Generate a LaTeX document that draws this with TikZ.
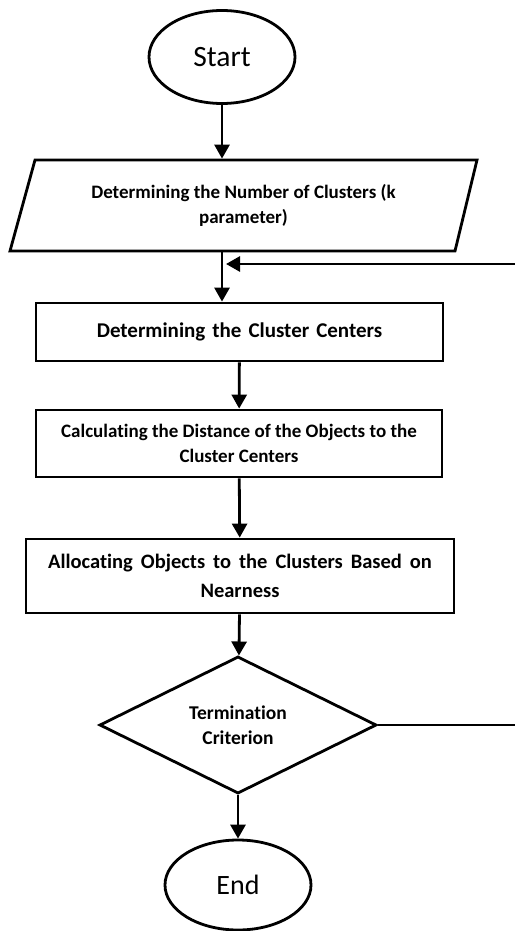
\documentclass[tikz,border=0pt]{standalone}
\usepackage{fontspec}
\setmainfont{Carlito}[Ligatures=NoCommon]
\usetikzlibrary{shapes.geometric,arrows.meta}
\newcommand\mywideA{\spaceskip 7pt\relax}
\newcommand\mywideB{\spaceskip 8pt\relax}
\begin{document}
\begin{tikzpicture}[x=1pt,y=-1pt,line width=2.8pt,
  term/.style={ellipse,draw,inner sep=0pt},
  proc/.style={rectangle,draw,inner sep=0pt,align=center},
  txt/.style={font=\bfseries\fontsize{19}{25.5}\selectfont},
  arr/.style={-{Triangle[width=15pt,length=14pt]}},
]
\useasboundingbox (0,0) rectangle (514,931);
\node[term,minimum width=146pt,minimum height=93pt,font=\fontsize{29.5}{32}\selectfont] (start) at (222,57) {Start};
\node[inner sep=0pt,minimum width=420pt,minimum height=91pt,align=center,txt] (par) at (243.5,205.5)
  {Determining the Number of Clusters (k\\parameter)};
\draw (10,251) -- (35,160) -- (477,160) -- (455,251) -- cycle;
\node[proc,minimum width=407pt,minimum height=58pt,font=\bfseries\fontsize{21}{26}\selectfont\mywideA] (b1) at (239.5,332) {Determining the Cluster Centers};
\node[proc,txt,minimum width=406pt,minimum height=67pt] (b2) at (239,443.5)
  {Calculating the Distance of the Objects to the\\Cluster Centers};
\node[proc,minimum width=428pt,minimum height=74pt,font=\bfseries\fontsize{20.5}{29}\selectfont\mywideB] (b3) at (240,576)
  {Allocating Objects to the Clusters Based on\\Nearness};
\node[diamond,draw,inner sep=0pt,minimum width=277pt,minimum height=127pt,align=center,font=\bfseries\fontsize{19.5}{25.5}\selectfont] (dec) at (238,725)
  {Termination\\Criterion};
\node[term,minimum width=146pt,minimum height=90pt,font=\fontsize{28}{30}\selectfont] (end) at (238,885) {End};
\coordinate (fbR) at (516,264);
\coordinate (fbL) at (226,264);
\coordinate (decR) at (516,725);
\draw[arr] (start) -- (start |- par.north);
\draw[arr] (start |- par.south) -- (start |- b1.north);
\draw[arr] (fbR) -- (fbL);
\draw[arr] (b1) -- (b2);
\draw[arr] (b2) -- (b3);
\draw[arr] (b3) -- (dec);
\draw[arr] (dec) -- (end);
\draw (dec.east) -- (decR);
\end{tikzpicture}
\end{document}
